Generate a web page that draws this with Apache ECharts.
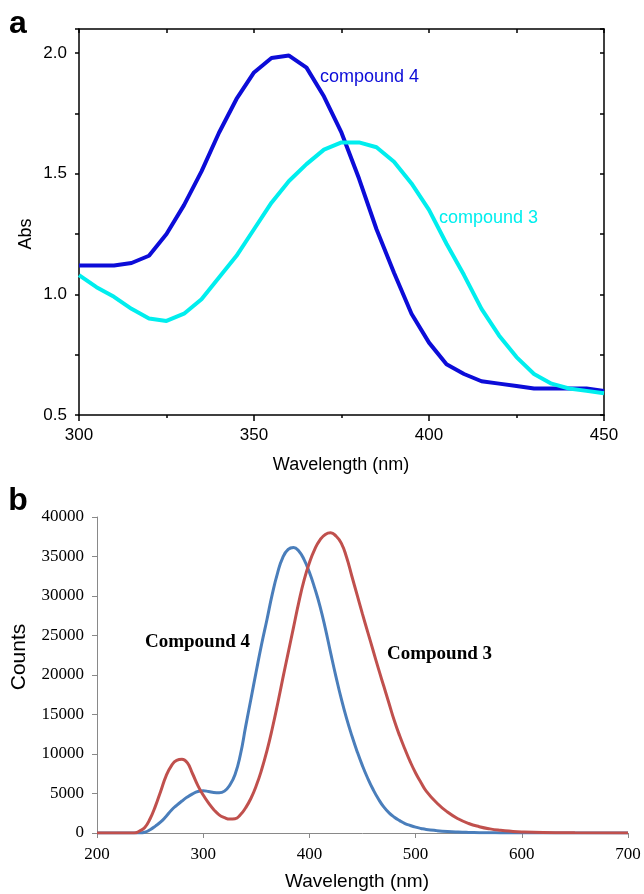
<!DOCTYPE html>
<html>
<head>
<meta charset="utf-8">
<script src="https://cdn.jsdelivr.net/npm/echarts@6/dist/echarts.min.js"></script>
<style>
  html, body { margin: 0; padding: 0; background: #fff; }
  #chart { width: 644px; height: 894px; }
</style>
</head>
<body>
<div id="chart"></div>
<script>
// panel a - absorbance
const absWavelength = [300, 305, 310, 315, 320, 325, 330, 335, 340, 345, 350, 355, 360, 365, 370, 375,
  380, 385, 390, 395, 400, 405, 410, 415, 420, 425, 430, 435, 440, 445, 450];
const absCompound4 = [1.12, 1.12, 1.12, 1.13, 1.16, 1.25, 1.37, 1.51, 1.67, 1.81, 1.92, 1.98, 1.99, 1.94, 1.82, 1.67,
  1.48, 1.27, 1.09, 0.92, 0.80, 0.71, 0.67, 0.64, 0.63, 0.62, 0.61, 0.61, 0.61, 0.61, 0.60];
const absCompound3 = [1.08, 1.03, 0.99, 0.94, 0.90, 0.89, 0.92, 0.98, 1.07, 1.16, 1.27, 1.38, 1.47, 1.54, 1.60, 1.63,
  1.63, 1.61, 1.55, 1.46, 1.35, 1.21, 1.08, 0.94, 0.83, 0.74, 0.67, 0.63, 0.61, 0.60, 0.59];
const absYLabels = [0.5, 1.0, 1.5, 2.0];

// panel b - emission counts
const emWavelength = [200, 220, 235, 240, 245, 250, 255, 260, 265, 270, 275, 280, 285, 290, 295, 300, 305, 310,
  315, 320, 325, 330, 335, 340, 345, 350, 355, 360, 365, 370, 375, 380, 385, 390, 395, 400, 405, 410, 415, 420,
  425, 430, 435, 440, 445, 450, 455, 460, 465, 470, 475, 480, 485, 490, 495, 500, 505, 510, 520, 530, 540, 550,
  560, 570, 580, 590, 600, 620, 650, 700];
const emCompound4 = [0, 0, 0, 0, 100, 420, 870, 1400, 2100, 2880, 3500, 4050, 4550, 4950, 5250, 5340, 5250, 5120,
  5080, 5300, 6050, 7400, 9900, 13500, 17000, 20500, 23900, 27000, 30200, 32900, 34900, 35900, 36150, 35700, 34600,
  33000, 31000, 28700, 25900, 22800, 19800, 17000, 14500, 12300, 10300, 8500, 6900, 5500, 4300, 3300, 2550, 2000,
  1570, 1200, 950, 740, 580, 450, 300, 190, 120, 75, 45, 25, 12, 5, 0, 0, 0, 0];
const emCompound3 = [0, 0, 0, 250, 700, 1800, 3400, 5300, 7200, 8500, 9200, 9330, 8900, 7500, 6000, 4800, 3800, 2950,
  2300, 1950, 1760, 1800, 2300, 3200, 4400, 6000, 8000, 10400, 13200, 16300, 19600, 22800, 26000, 29200, 32000,
  34200, 35900, 37100, 37800, 38000, 37600, 36700, 34900, 32500, 30100, 27700, 25400, 23100, 20800, 18600, 16400,
  14200, 12300, 10600, 9000, 7600, 6400, 5300, 3800, 2650, 1800, 1200, 800, 520, 340, 220, 140, 60, 20, 0];

const pairs = (xs, ys) => xs.map((x, i) => [x, ys[i]]);

const SANS = 'Liberation Sans';
const SERIF = 'Liberation Serif';
const BLUE_A = '#0c0cd8';
const CYAN_A = '#00eeee';
const RED_B = '#c0504d';
const BLUE_B = '#4a7ebb';
const GREY = '#898989';

const blackLine = { lineStyle: { color: '#000', width: 1.5 } };

const chart = echarts.init(document.getElementById('chart'));

chart.setOption({
  animation: false,
  backgroundColor: '#fff',
  grid: [
    { left: 79, top: 29, width: 525, height: 386 },
    { left: 97, top: 517, width: 531, height: 316 }
  ],
  xAxis: [
    {
      gridIndex: 0, type: 'value', min: 300, max: 450, interval: 50, position: 'bottom',
      axisLine: { show: true, onZero: false, ...blackLine },
      axisTick: { show: true, length: 6, ...blackLine },
      minorTick: { show: true, splitNumber: 2, length: 3, ...blackLine },
      axisLabel: { margin: 12, fontSize: 17, color: '#000', fontFamily: SANS },
      splitLine: { show: false }
    },
    {
      gridIndex: 0, type: 'value', min: 300, max: 450, interval: 25, position: 'top',
      axisLine: { show: true, onZero: false, ...blackLine },
      axisTick: { show: true, inside: true, length: 4, ...blackLine },
      axisLabel: { show: false },
      splitLine: { show: false }
    },
    {
      gridIndex: 1, type: 'value', min: 200, max: 700, interval: 100,
      axisLine: { show: true, onZero: false, lineStyle: { color: GREY, width: 1 } },
      axisTick: { show: true, length: 5, lineStyle: { color: GREY } },
      axisLabel: { margin: 13, fontSize: 17, color: '#000', fontFamily: SERIF, formatter: v => String(v) },
      splitLine: { show: false }
    }
  ],
  yAxis: [
    {
      gridIndex: 0, type: 'value', min: 0.5, max: 2.1, interval: 0.25, position: 'left',
      axisLine: { show: true, onZero: false, ...blackLine },
      axisTick: { show: true, length: 4, ...blackLine },
      axisLabel: {
        margin: 12, fontSize: 17, color: '#000', fontFamily: SANS,
        formatter: v => absYLabels.some(l => Math.abs(l - v) < 1e-6) ? v.toFixed(1) : ''
      },
      splitLine: { show: false }
    },
    {
      gridIndex: 0, type: 'value', min: 0.5, max: 2.1, interval: 0.25, position: 'right',
      axisLine: { show: true, onZero: false, ...blackLine },
      axisTick: { show: true, inside: true, length: 4, ...blackLine },
      axisLabel: { show: false },
      splitLine: { show: false }
    },
    {
      gridIndex: 1, type: 'value', min: 0, max: 40000, interval: 5000,
      axisLine: { show: true, onZero: false, lineStyle: { color: GREY, width: 1 } },
      axisTick: { show: true, length: 5, lineStyle: { color: GREY } },
      axisLabel: { margin: 13, fontSize: 17, color: '#000', fontFamily: SERIF, formatter: v => String(v) },
      splitLine: { show: false }
    }
  ],
  series: [
    {
      name: 'compound 4', type: 'line', xAxisIndex: 0, yAxisIndex: 0,
      data: pairs(absWavelength, absCompound4), showSymbol: false,
      lineStyle: { color: BLUE_A, width: 4 }
    },
    {
      name: 'compound 3', type: 'line', xAxisIndex: 0, yAxisIndex: 0,
      data: pairs(absWavelength, absCompound3), showSymbol: false,
      lineStyle: { color: CYAN_A, width: 4 }
    },
    {
      name: 'Compound 4', type: 'line', xAxisIndex: 2, yAxisIndex: 2,
      data: pairs(emWavelength, emCompound4), showSymbol: false, smooth: 0.5,
      lineStyle: { color: BLUE_B, width: 3 }
    },
    {
      name: 'Compound 3', type: 'line', xAxisIndex: 2, yAxisIndex: 2,
      data: pairs(emWavelength, emCompound3), showSymbol: false, smooth: 0.5,
      lineStyle: { color: RED_B, width: 3 }
    }
  ],
  graphic: [
    // panel letters
    { type: 'text', x: 18, y: 24, style: { text: 'a', font: `bold 32px "${SANS}"`, fill: '#000', align: 'center', verticalAlign: 'middle' } },
    { type: 'text', x: 18, y: 501, style: { text: 'b', font: `bold 32px "${SANS}"`, fill: '#000', align: 'center', verticalAlign: 'middle' } },
    // panel a titles
    { type: 'text', x: 341, y: 465, style: { text: 'Wavelength (nm)', font: `18px "${SANS}"`, fill: '#000', align: 'center', verticalAlign: 'middle' } },
    { type: 'text', x: 26, y: 234, rotation: Math.PI / 2, style: { text: 'Abs', font: `18px "${SANS}"`, fill: '#000', align: 'center', verticalAlign: 'middle' } },
    { type: 'text', x: 320, y: 77, style: { text: 'compound 4', font: `18px "${SANS}"`, fill: BLUE_A, align: 'left', verticalAlign: 'middle' } },
    { type: 'text', x: 439, y: 218, style: { text: 'compound 3', font: `18px "${SANS}"`, fill: CYAN_A, align: 'left', verticalAlign: 'middle' } },
    // panel b titles
    { type: 'text', x: 357, y: 882, style: { text: 'Wavelength (nm)', font: `19px "${SANS}"`, fill: '#000', align: 'center', verticalAlign: 'middle' } },
    { type: 'text', x: 19, y: 657, rotation: Math.PI / 2, style: { text: 'Counts', font: `21px "${SANS}"`, fill: '#000', align: 'center', verticalAlign: 'middle' } },
    { type: 'text', x: 145, y: 642, style: { text: 'Compound 4', font: `bold 19px "${SERIF}"`, fill: '#000', align: 'left', verticalAlign: 'middle' } },
    { type: 'text', x: 387, y: 654, style: { text: 'Compound 3', font: `bold 19px "${SERIF}"`, fill: '#000', align: 'left', verticalAlign: 'middle' } }
  ]
});
</script>
</body>
</html>
